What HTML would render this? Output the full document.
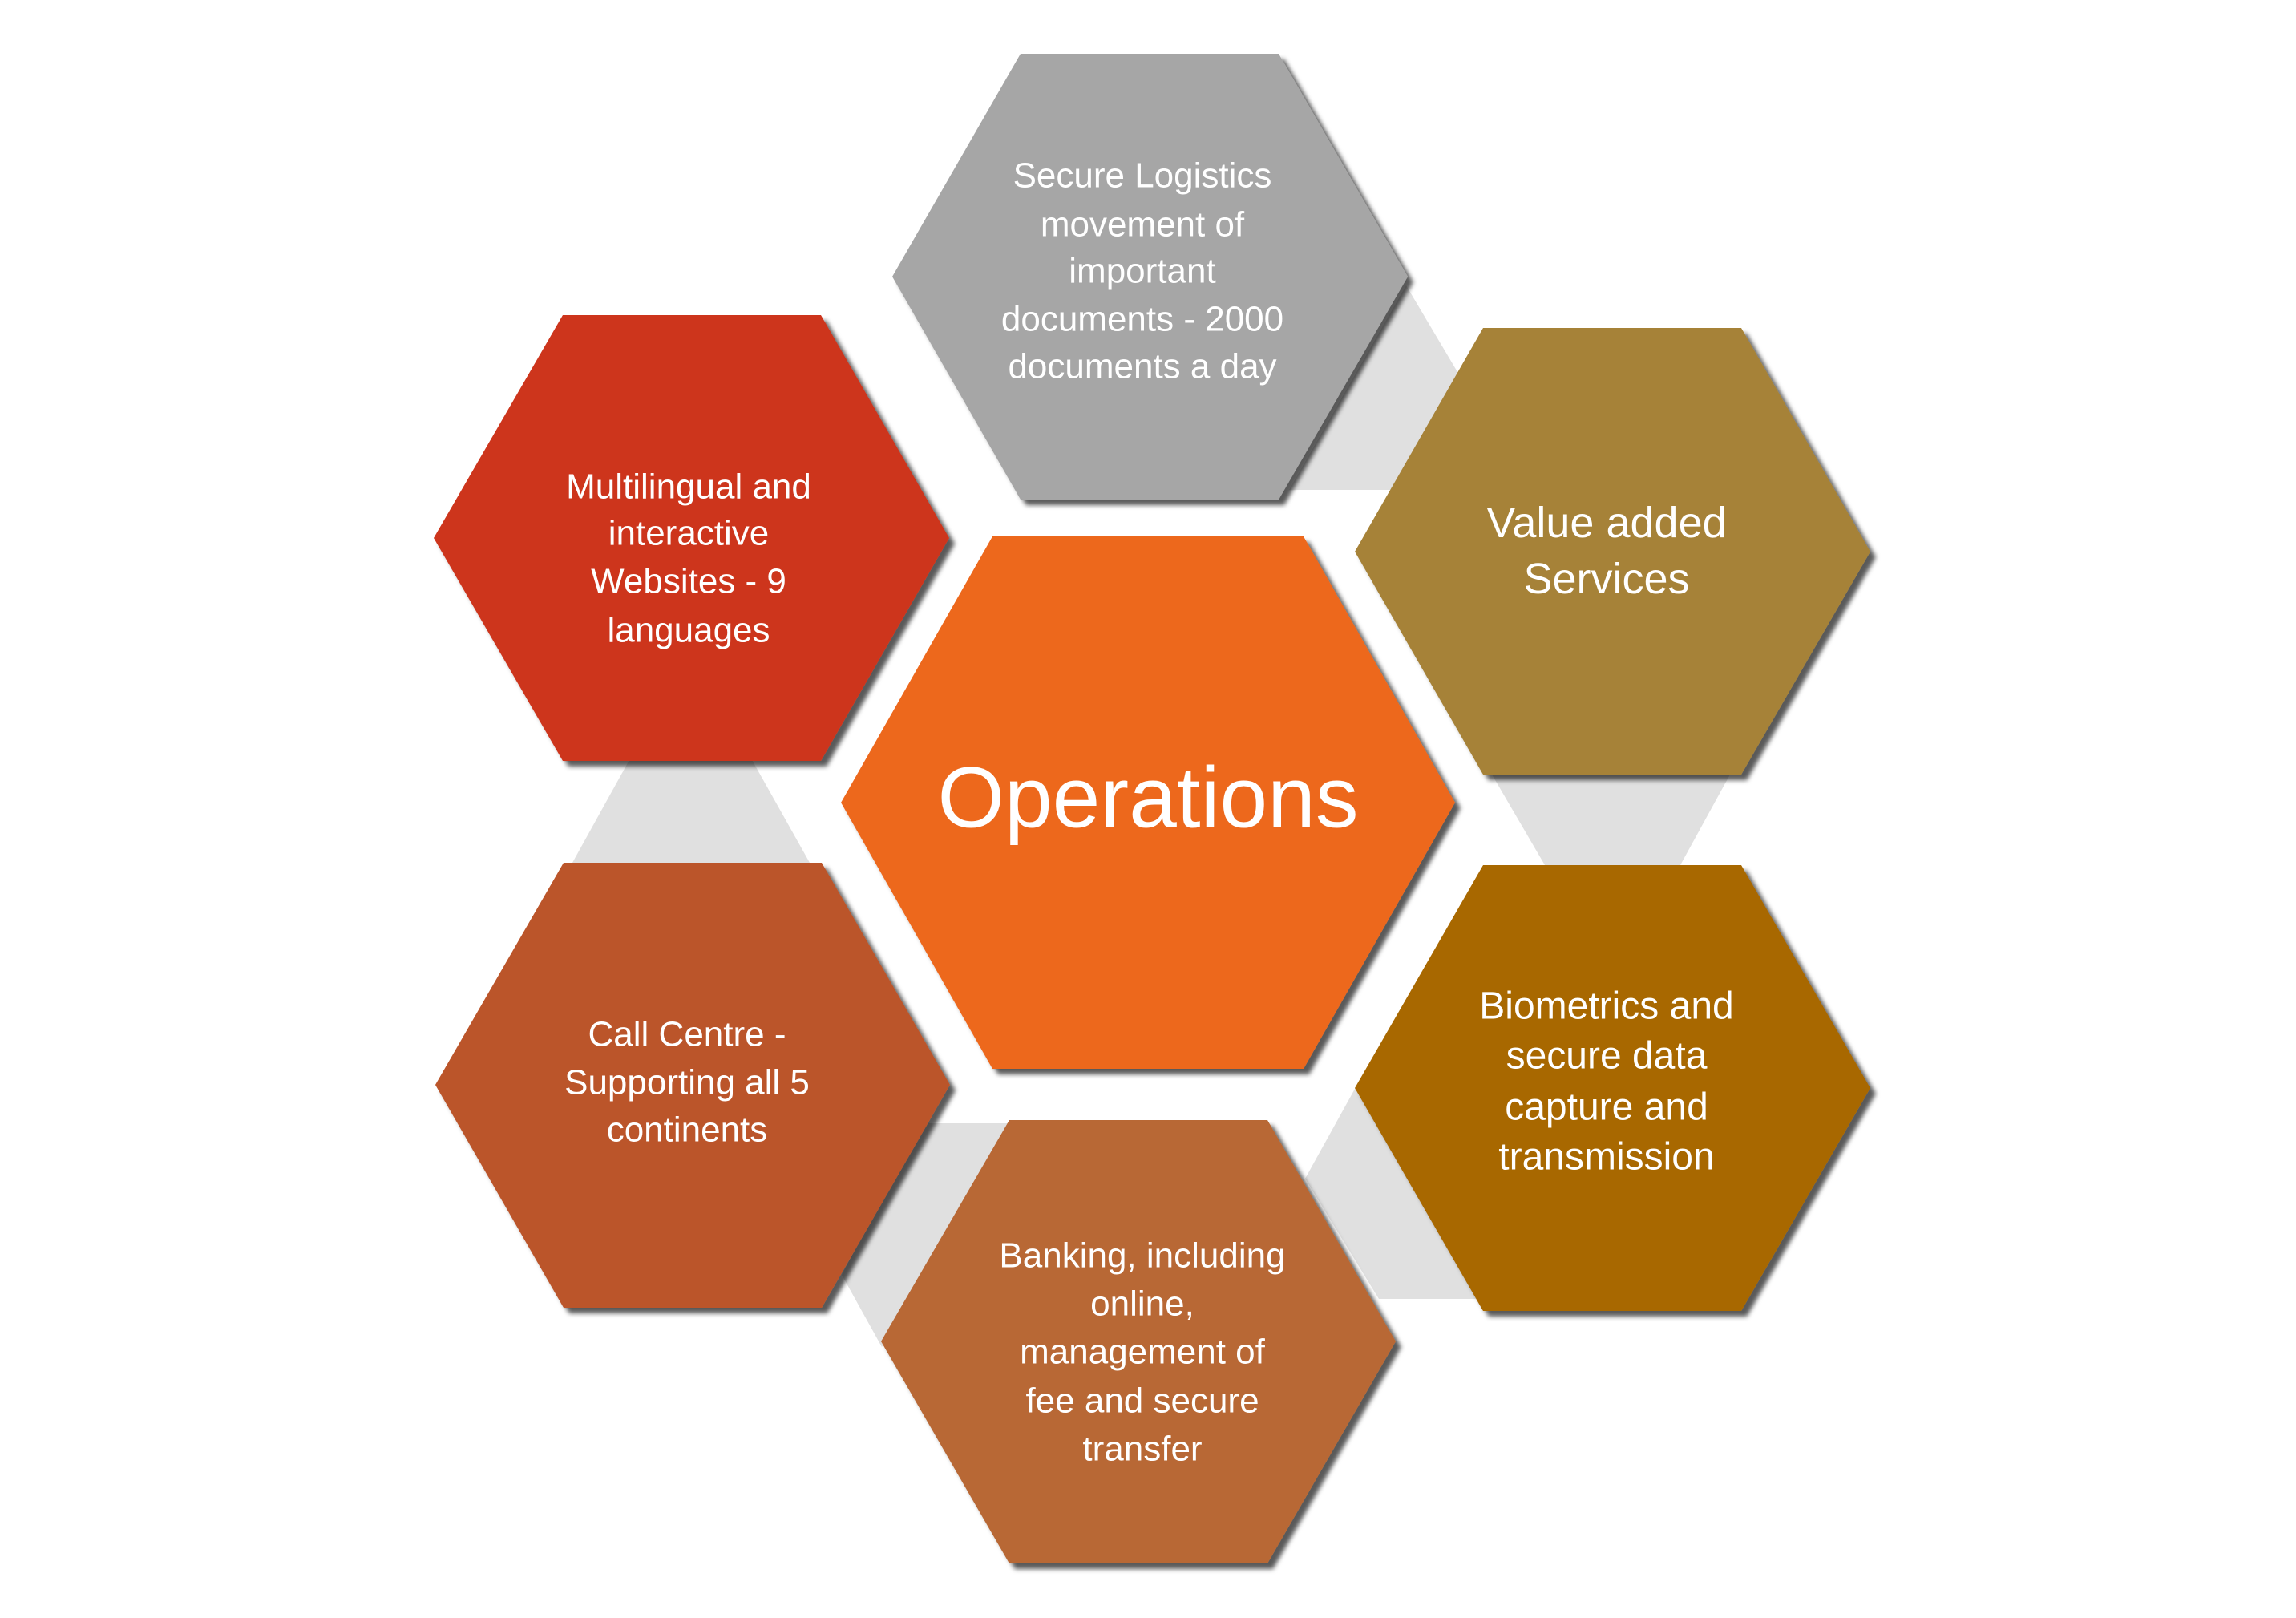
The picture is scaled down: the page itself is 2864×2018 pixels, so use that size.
<!DOCTYPE html>
<html><head><meta charset="utf-8"><style>
html,body{margin:0;padding:0;background:#fff}
svg{display:block}
text{font-family:"Liberation Sans",sans-serif;fill:#fff;text-anchor:middle;dominant-baseline:central}
</style></head><body>
<svg width="2864" height="2018" viewBox="0 0 2864 2018" xmlns="http://www.w3.org/2000/svg">
<defs>
<filter id="sh" x="-10%" y="-10%" width="130%" height="130%">
<feDropShadow dx="7" dy="7" stdDeviation="3" flood-color="#000" flood-opacity="0.65"/>
</filter>
</defs>
<g fill="#e0e0e0">
<polygon points="1754,356 1827,479 1736,611 1608,611"/>
<polygon points="1861,966 2158,966 2096,1079 1927,1079"/>
<polygon points="786,946 937,946 1010,1076 714,1076"/>
<polygon points="1150,1401 1260,1401 1100,1680 1050,1590"/>
<polygon points="1628,1470 1700,1340 1860,1620 1720,1620"/>
</g>
<g filter="url(#sh)">
<!-- outer hex: half width 321, half top 161, half height 278 -->
<polygon fill="#a6a6a6" points="1273,67 1595,67 1756,345 1595,623 1273,623 1113,345"/>
<polygon fill="#cd341c" points="702,393 1024,393 1184,671 1024,949 702,949 541,671"/>
<polygon fill="#a68238" points="1850,409 2172,409 2333,688 2172,966 1850,966 1690,688"/>
<polygon fill="#ed681e" points="1238,669 1626,669 1815,1001 1626,1333 1238,1333 1049,1001"/>
<polygon fill="#bb552b" points="703,1076 1025,1076 1185,1353 1025,1631 703,1631 543,1353"/>
<polygon fill="#a86700" points="1850,1079 2172,1079 2333,1357 2172,1635 1850,1635 1690,1357"/>
<polygon fill="#b86834" points="1259,1397 1581,1397 1741,1673 1581,1950 1259,1950 1099,1673"/>
</g>
<g font-size="44">
<text x="1425" y="219">Secure Logistics</text>
<text x="1425" y="280">movement of</text>
<text x="1425" y="338">important</text>
<text x="1425" y="398">documents  - 2000</text>
<text x="1425" y="457">documents a day</text>

<text x="859" y="607">Multilingual and</text>
<text x="859" y="665">interactive</text>
<text x="859" y="725">Websites - 9</text>
<text x="859" y="786">languages</text>

<text x="857" y="1290">Call Centre -</text>
<text x="857" y="1350">Supporting all 5</text>
<text x="857" y="1409">continents</text>

<text x="1425" y="1566">Banking, including</text>
<text x="1425" y="1626">online,</text>
<text x="1425" y="1686">management of</text>
<text x="1425" y="1747">fee and secure</text>
<text x="1425" y="1807">transfer</text>
</g>
<g font-size="48">
<text x="2004" y="1255">Biometrics and</text>
<text x="2004" y="1317">secure data</text>
<text x="2004" y="1381">capture and</text>
<text x="2004" y="1443">transmission</text>
</g>
<g font-size="54">
<text x="2004" y="652">Value added</text>
<text x="2004" y="722">Services</text>
</g>
<text x="1432" y="994" font-size="108" textLength="525" lengthAdjust="spacingAndGlyphs">Operations</text>
</svg>
</body></html>
